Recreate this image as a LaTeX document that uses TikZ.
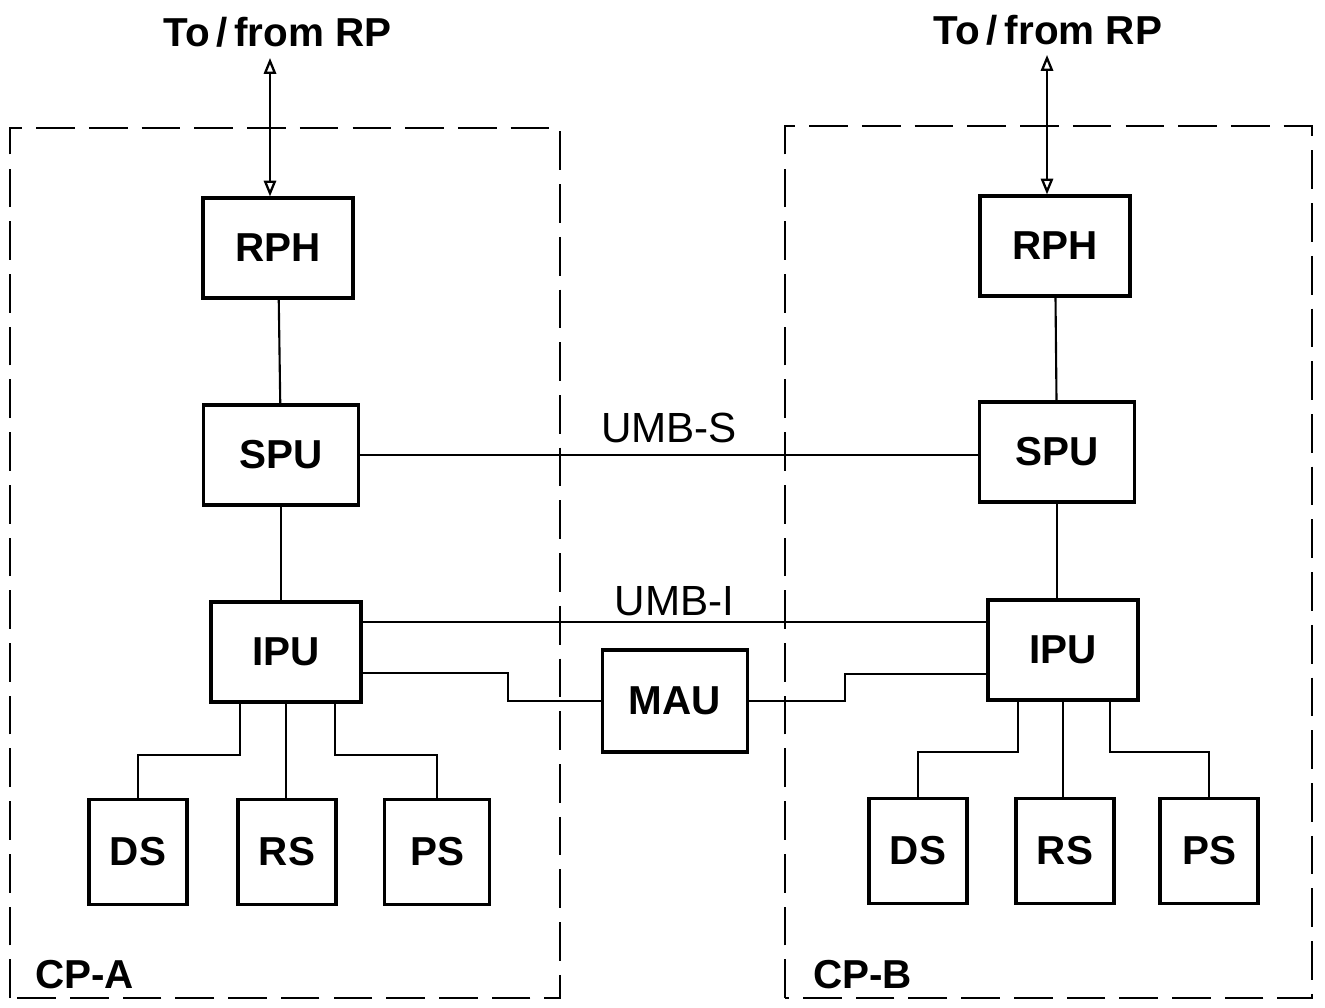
\documentclass[tikz,border=0pt]{standalone}
\usepackage{fontspec}
\setmainfont{Liberation Sans}
\usepackage{tikz}
\usetikzlibrary{arrows.meta,positioning}

\begin{document}
\begin{tikzpicture}[
    unit/.style={rectangle, draw, line width=1.8pt, minimum width=3.0cm, minimum height=2.0cm,
                 align=center, font=\fontsize{23}{27}\selectfont\bfseries},
    store/.style={unit, minimum width=1.96cm, minimum height=2.1cm},
    cpbox/.style={draw, line width=1.3pt, dash pattern=on 22pt off 8pt},
    link/.style={line width=1.2pt},
    rplink/.style={{Triangle[open,width=7pt,length=9pt]}-{Triangle[open,width=7pt,length=9pt]}, line width=1.3pt},
    lbl/.style={font=\fontsize{23}{27}\selectfont\bfseries},
    bus/.style={font=\fontsize{24}{28}\selectfont, inner sep=6pt}
]
    \useasboundingbox (0,0) rectangle (26.5,20.14);

    % CP-A side
    \draw[cpbox] (0.2,0.18) rectangle (11.2,17.58);
    \node[lbl, anchor=west, inner sep=0pt] (cpa) at (0.7,0.64) {CP-A};

    \node[unit] (rphA) at (5.56,15.18) {RPH};
    \node[unit, minimum width=3.1cm] (spuA) at (5.62,11.04) {SPU};
    \node[unit] (ipuA) at (5.72,7.1) {IPU};
    \node[store] (dsA) at (2.76,3.1) {DS};
    \node[store] (rsA) at (5.74,3.1) {RS};
    \node[store, minimum width=2.1cm] (psA) at (8.74,3.1) {PS};

    \node[lbl] (rpA) at (5.55,19.5) {To\,/\,from RP};
    \coordinate (rpAend) at (5.4,18.98);
    \draw[rplink] (rpAend) -- (rpAend |- rphA.north);

    \draw[link] (rphA) -- (spuA);
    \draw[link] (spuA.south) -- (spuA.south |- ipuA.north);
    \draw[link] ([xshift=-0.92cm]ipuA.south) -- ++(0,-1.02) -| (dsA.north);
    \draw[link] (ipuA.south) -- (ipuA.south |- rsA.north);
    \draw[link] ([xshift=0.98cm]ipuA.south) -- ++(0,-1.02) -| (psA.north);

    % CP-B side
    \draw[cpbox] (15.7,0.18) rectangle (26.24,17.62);
    \node[lbl, anchor=west, inner sep=0pt] (cpb) at (16.26,0.64) {CP-B};

    \node[unit] (rphB) at (21.1,15.22) {RPH};
    \node[unit, minimum width=3.1cm] (spuB) at (21.14,11.1) {SPU};
    \node[unit] (ipuB) at (21.26,7.14) {IPU};
    \node[store] (dsB) at (18.36,3.12) {DS};
    \node[store] (rsB) at (21.3,3.12) {RS};
    \node[store] (psB) at (24.18,3.12) {PS};

    \node[lbl] (rpB) at (20.96,19.54) {To\,/\,from RP};
    \coordinate (rpBend) at (20.94,19.04);
    \draw[rplink] (rpBend) -- (rpBend |- rphB.north);

    \draw[link] (rphB) -- (spuB);
    \draw[link] (spuB.south) -- (spuB.south |- ipuB.north);
    \draw[link] ([xshift=-0.9cm]ipuB.south) -- ++(0,-1.0) -| (dsB.north);
    \draw[link] (ipuB.south) -- (ipuB.south |- rsB.north);
    \draw[link] ([xshift=0.94cm]ipuB.south) -- ++(0,-1.0) -| (psB.north);

    % buses between the two CPs
    \draw[link] (spuA.east) -- node[bus, above] {UMB-S} (spuA.east -| spuB.west);
    \draw[link] ([yshift=0.6cm]ipuA.east) -- node[bus, above, inner sep=3pt] {UMB-I} ([yshift=0.6cm]ipuA.east -| ipuB.west);

    \node[unit, minimum width=2.9cm, minimum height=2.04cm] (mau) at (13.5,6.12) {MAU};
    \draw[link] ([yshift=-0.42cm]ipuA.east) -- ++(2.9,0) |- (mau.west);
    \draw[link] (mau.east) -- ++(1.92,0) |- ([yshift=-0.48cm]ipuB.west);

\end{tikzpicture}
\end{document}
